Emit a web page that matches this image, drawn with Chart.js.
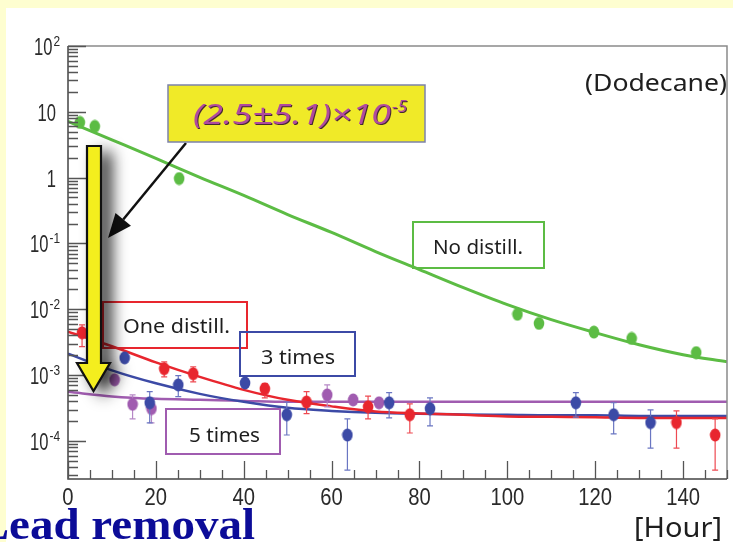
<!DOCTYPE html>
<html>
<head>
<meta charset="utf-8">
<script src="https://cdn.jsdelivr.net/npm/chart.js@4"></script>
<style>
  html, body { margin: 0; padding: 0; background: #fefed0; overflow: hidden; }
  canvas { display: block; }
</style>
</head>
<body>
<canvas id="chart" width="733" height="542" style="width:733px;height:542px"></canvas>
<script>
// Lead activity in dodecane versus elapsed time, for each number of distillations.

// Axis ticks
const hourTicks = [0, 20, 40, 60, 80, 100, 120, 140];
const activityTicks = [1e-4, 1e-3, 1e-2, 1e-1, 1, 10, 100];
const activityTickBase = ["10", "10", "10", "10", "1", "10", "10"];
const activityTickExp = ["-4", "-3", "-2", "-1", "", "", "2"];

// Series names
const seriesNames = ["No distill.", "One distill.", "3 times", "5 times"];

// Measured points
const noDistillHours = [2.7, 6.1, 25.3, 102.3, 107.2, 119.7, 128.3, 143.0];
const noDistillValues = [6.9, 6.0, 0.97, 8.4e-3, 6.1e-3, 4.5e-3, 3.6e-3, 2.2e-3];

const oneDistillHours = [3.2, 21.9, 28.5, 44.8, 54.3, 68.3, 77.8, 138.5, 147.3];
const oneDistillValues = [4.4e-3, 1.25e-3, 1.05e-3, 6.2e-4, 3.9e-4, 3.3e-4, 2.5e-4, 1.9e-4, 1.23e-4];
const oneDistillLow = [2.7e-3, 9.4e-4, 7.9e-4, 4.5e-4, 2.6e-4, 2.16e-4, 1.32e-4, 7.8e-5, 3.6e-5];
const oneDistillHigh = [5.8e-3, 1.59e-3, 1.34e-3, 7.4e-4, 5.6e-4, 4.8e-4, 3.66e-4, 2.87e-4, 2.16e-4];

const threeTimesHours = [12.9, 18.6, 25.1, 40.3, 49.8, 63.6, 73.1, 82.4, 115.6, 124.2, 132.6];
const threeTimesValues = [1.83e-3, 3.8e-4, 7.1e-4, 7.6e-4, 2.5e-4, 1.23e-4, 3.8e-4, 3.1e-4, 3.8e-4, 2.5e-4, 1.9e-4];
const threeTimesLow = [1.65e-3, 1.88e-4, 4.7e-4, 6.6e-4, 1.23e-4, 3.6e-5, 2.24e-4, 1.69e-4, 2.3e-4, 1.28e-4, 7.8e-5];
const threeTimesHigh = [2.0e-3, 5.6e-4, 9.8e-4, 8.6e-4, 3.9e-4, 2.16e-4, 5.4e-4, 4.5e-4, 5.4e-4, 3.8e-4, 2.96e-4];

const fiveTimesHours = [10.6, 14.7, 19.0, 59.0, 64.9, 70.8];
const fiveTimesValues = [8.5e-4, 3.6e-4, 3.1e-4, 5.0e-4, 4.2e-4, 3.8e-4];
const fiveTimesLow = [7.6e-4, 2.16e-4, 1.88e-4, 3.3e-4, 3.7e-4, 3.4e-4];
const fiveTimesHigh = [9.4e-4, 5.0e-4, 4.5e-4, 7.1e-4, 4.8e-4, 4.3e-4];

// Fitted curves, sampled every 10 hours
const fitHours = [0, 10, 20, 30, 40, 50, 60, 70, 80, 90, 100, 110, 120, 130, 140, 150];
const fitNoDistill = [7.16, 3.75, 1.96, 1.01, 0.536, 0.275, 0.147, 0.0754, 0.0401, 0.0213, 0.01175, 6.95e-3, 4.41e-3, 2.89e-3, 2.04e-3, 1.59e-3];
const fitOneDistill = [4.56e-3, 2.74e-3, 1.56e-3, 9.4e-4, 5.97e-4, 4.21e-4, 3.35e-4, 2.80e-4, 2.62e-4, 2.49e-4, 2.36e-4, 2.32e-4, 2.28e-4, 2.24e-4, 2.24e-4, 2.24e-4];
const fitThreeTimes = [2.11e-3, 1.18e-3, 7.5e-4, 5.19e-4, 3.93e-4, 3.18e-4, 2.86e-4, 2.67e-4, 2.58e-4, 2.53e-4, 2.49e-4, 2.45e-4, 2.45e-4, 2.40e-4, 2.40e-4, 2.40e-4];
const fitFiveTimes = [5.57e-4, 4.75e-4, 4.36e-4, 4.21e-4, 4.06e-4, 3.93e-4, 3.93e-4, 3.93e-4, 3.93e-4, 3.93e-4, 3.93e-4, 3.93e-4, 3.93e-4, 3.93e-4, 3.93e-4, 3.93e-4];

const fitValue = "(2.5\u00B15.1)\u00D710";
const fitValueExp = "-5";

const GREEN = "#5cbc44", RED = "#e8262e", BLUE = "#3c4aa6", PURPLE = "#a05cb0";

const toPoints = (xs, ys) => xs.map((x, i) => ({ x: x, y: ys[i] }));

function dot(color) {
  const c = document.createElement("canvas");
  c.width = 12; c.height = 14;
  const g = c.getContext("2d");
  g.fillStyle = color;
  g.beginPath();
  g.ellipse(6, 7, 5.3, 6.5, 0, 0, Math.PI * 2);
  g.fill();
  return c;
}

function lineSet(xs, ys, color, width) {
  return {
    data: toPoints(xs, ys), showLine: true, borderColor: color, borderWidth: width,
    pointRadius: 0, cubicInterpolationMode: "monotone", order: 5
  };
}
function pointSet(xs, ys, color, barColor, low, high) {
  return {
    data: toPoints(xs, ys), showLine: false, pointStyle: dot(color), pointRadius: 6,
    backgroundColor: color, borderWidth: 0, order: 1,
    errLow: low, errHigh: high, errColor: barColor
  };
}

function drawText(ctx, str, left, base, font, color, width) {
  ctx.save();
  ctx.font = font; ctx.fillStyle = color;
  ctx.textAlign = "left"; ctx.textBaseline = "alphabetic";
  const w = ctx.measureText(str).width;
  const sx = width ? width / w : 1;
  ctx.translate(left, base); ctx.scale(sx, 1);
  ctx.fillText(str, 0, 0);
  ctx.restore();
}
function textWidth(ctx, str, font, sx) {
  ctx.save(); ctx.font = font;
  const w = ctx.measureText(str).width * sx;
  ctx.restore();
  return w;
}

const errorBars = {
  id: "errorBars",
  beforeDatasetDraw(chart, args) {
    const ds = chart.data.datasets[args.index];
    if (!ds.errLow) return;
    const ctx = chart.ctx, xs = chart.scales.x, ys = chart.scales.y;
    ctx.save();
    ctx.strokeStyle = ds.errColor; ctx.lineWidth = 1.2;
    ds.data.forEach((p, i) => {
      const px = xs.getPixelForValue(p.x);
      const y1 = ys.getPixelForValue(ds.errLow[i]);
      const y2 = ys.getPixelForValue(ds.errHigh[i]);
      ctx.beginPath();
      ctx.moveTo(px, y1); ctx.lineTo(px, y2);
      ctx.moveTo(px - 3, y1); ctx.lineTo(px + 3, y1);
      ctx.moveTo(px - 3, y2); ctx.lineTo(px + 3, y2);
      ctx.stroke();
    });
    ctx.restore();
  }
};

const decorations = {
  id: "decorations",
  beforeDraw(chart) {
    const ctx = chart.ctx;
    ctx.save();
    ctx.fillStyle = "#fefed0";
    ctx.fillRect(0, 0, chart.width, chart.height);
    ctx.fillStyle = "#ffffff";
    ctx.fillRect(6, 8, chart.width - 6, chart.height - 8);
    ctx.restore();
  },
  afterDatasetsDraw(chart) {
    const ctx = chart.ctx, a = chart.chartArea;
    const xs = chart.scales.x, ys = chart.scales.y;
    ctx.save();

    // frame
    ctx.lineWidth = 1.5;
    ctx.strokeStyle = "#8a8a8a";
    ctx.beginPath();
    ctx.moveTo(a.left, a.top); ctx.lineTo(a.right, a.top); ctx.lineTo(a.right, a.bottom);
    ctx.stroke();
    ctx.strokeStyle = "#444";
    ctx.beginPath();
    ctx.moveTo(a.left, a.top); ctx.lineTo(a.left, a.bottom); ctx.lineTo(a.right, a.bottom);
    ctx.stroke();

    // ticks on the hour axis
    ctx.strokeStyle = "#555"; ctx.lineWidth = 1.3;
    ctx.beginPath();
    for (let h = xs.min; h <= xs.max; h += 5) {
      const px = Math.round(xs.getPixelForValue(h)) + 0.5;
      const len = hourTicks.includes(h) ? 18 : 9;
      ctx.moveTo(px, a.bottom); ctx.lineTo(px, a.bottom - len);
    }
    // ticks on the activity axis
    for (let d = -5; d <= 2; d++) {
      for (let k = 1; k <= 9; k++) {
        const v = k * Math.pow(10, d);
        if (v < ys.min || v > ys.max) continue;
        const py = Math.round(ys.getPixelForValue(v)) + 0.5;
        const len = k === 1 ? 18 : 10;
        ctx.moveTo(a.left, py); ctx.lineTo(a.left + len, py);
      }
    }
    ctx.stroke();

    // hour labels
    const xFont = '23px "Liberation Sans", Arial, sans-serif', xsx = 0.88;
    hourTicks.forEach(h => {
      const label = String(h);
      const w = textWidth(ctx, label, xFont, xsx);
      drawText(ctx, label, xs.getPixelForValue(h) - w / 2, 505, xFont, "#2a2a2a", w);
    });

    // activity labels
    const yFont = '23px "Liberation Sans", Arial, sans-serif', ysx = 0.72;
    const eFont = '14px "Liberation Sans", Arial, sans-serif', esx = 0.85;
    activityTicks.forEach((v, i) => {
      const py = ys.getPixelForValue(v);
      const base = activityTickBase[i], exp = activityTickExp[i];
      const wb = textWidth(ctx, base, yFont, ysx);
      const we = exp ? textWidth(ctx, exp, eFont, esx) : 0;
      const right = exp ? 60 : 56;
      const left = right - wb - we - (exp ? 1 : 0);
      drawText(ctx, base, left, py + 9, yFont, "#2a2a2a", wb);
      if (exp) drawText(ctx, exp, left + wb + 1, py + 0, eFont, "#2a2a2a", we);
    });

    // series boxes
    const boxes = [
      { name: seriesNames[0], color: GREEN, box: [413, 222, 131, 46], left: 433, width: 90, base: 254 },
      { name: seriesNames[1], color: RED, box: [103, 302, 144, 46], left: 123, width: 107, base: 333 },
      { name: seriesNames[2], color: BLUE, box: [240, 332, 115, 44], left: 261, width: 74, base: 364 },
      { name: seriesNames[3], color: PURPLE, box: [166, 409, 114, 45], left: 189, width: 71, base: 442 }
    ];
    const lFont = '20px "Noto Sans", "Liberation Sans", sans-serif';
    boxes.forEach(b => {
      ctx.strokeStyle = b.color; ctx.lineWidth = 2;
      ctx.strokeRect(b.box[0], b.box[1], b.box[2], b.box[3]);
      drawText(ctx, b.name, b.left, b.base, lFont, "#1e1e1e", b.width);
    });

    drawText(ctx, "(Dodecane)", 585, 91, '23px "Noto Sans", "Liberation Sans", sans-serif', "#1e1e1e", 142);

    // thin black pointer
    ctx.strokeStyle = "#111"; ctx.fillStyle = "#111"; ctx.lineWidth = 2.5;
    const p0 = [186, 143], p1 = [108, 238];
    const ang = Math.atan2(p1[1] - p0[1], p1[0] - p0[0]);
    const hl = 24, hw = 10;
    const bx = p1[0] - hl * Math.cos(ang), by = p1[1] - hl * Math.sin(ang);
    ctx.beginPath(); ctx.moveTo(p0[0], p0[1]); ctx.lineTo(bx, by); ctx.stroke();
    ctx.beginPath();
    ctx.moveTo(p1[0], p1[1]);
    ctx.lineTo(bx + hw * Math.sin(ang), by - hw * Math.cos(ang));
    ctx.lineTo(bx - hw * Math.sin(ang), by + hw * Math.cos(ang));
    ctx.closePath(); ctx.fill();

    // big yellow arrow with soft shadow
    const arrow = () => {
      ctx.beginPath();
      ctx.moveTo(87, 146); ctx.lineTo(101, 146); ctx.lineTo(101, 363); ctx.lineTo(110, 363);
      ctx.lineTo(93.5, 391); ctx.lineTo(77, 363); ctx.lineTo(87, 363); ctx.closePath();
    };
    ctx.save();
    ctx.shadowColor = "rgba(0,0,0,0.9)"; ctx.shadowBlur = 16;
    ctx.shadowOffsetX = 10; ctx.shadowOffsetY = 6;
    arrow(); ctx.fillStyle = "#f4ee1e"; ctx.fill();
    ctx.restore();
    arrow(); ctx.fillStyle = "#f4ee1e"; ctx.fill();
    ctx.strokeStyle = "#111"; ctx.lineWidth = 2.2; ctx.lineJoin = "miter"; ctx.stroke();

    // fitted value label
    ctx.fillStyle = "#f0ea28"; ctx.fillRect(168, 85, 257, 57);
    ctx.strokeStyle = "#7c82aa"; ctx.lineWidth = 1.5; ctx.strokeRect(168, 85, 257, 57);
    ctx.save();
    ctx.shadowColor = "rgba(50,20,50,0.9)"; ctx.shadowOffsetX = 1; ctx.shadowOffsetY = 1; ctx.shadowBlur = 0;
    drawText(ctx, fitValue, 193, 124, 'italic 28px "Noto Sans", "Liberation Sans", sans-serif', "#b04a9e", 198);
    drawText(ctx, fitValueExp, 392, 112, 'italic 16px "Noto Sans", "Liberation Sans", sans-serif', "#b04a9e", 15);
    ctx.restore();

    // captions
    drawText(ctx, "[Hour]", 634, 537, '27px "Noto Sans", "Liberation Sans", sans-serif', "#1e1e1e", 88);
    const tFont = 'bold 44px "Liberation Serif", "Times New Roman", serif';
    const wRest = textWidth(ctx, "ead removal", tFont, 1);
    const sx = 246 / wRest;
    const wL = textWidth(ctx, "L", tFont, 1) * sx;
    const wAll = textWidth(ctx, "Lead removal", tFont, 1) * sx;
    drawText(ctx, "Lead removal", 9 - wL, 539, tFont, "#0c0c98", wAll);

    ctx.restore();
  }
};

new Chart(document.getElementById("chart"), {
  type: "scatter",
  data: {
    datasets: [
      lineSet(fitHours, fitNoDistill, GREEN, 3),
      lineSet(fitHours, fitOneDistill, RED, 2.5),
      lineSet(fitHours, fitThreeTimes, BLUE, 2.5),
      lineSet(fitHours, fitFiveTimes, PURPLE, 2.5),
      pointSet(noDistillHours, noDistillValues, GREEN, GREEN, null, null),
      pointSet(oneDistillHours, oneDistillValues, RED, "#ee4a52", oneDistillLow, oneDistillHigh),
      pointSet(threeTimesHours, threeTimesValues, BLUE, "#6a76c2", threeTimesLow, threeTimesHigh),
      pointSet(fiveTimesHours, fiveTimesValues, PURPLE, "#b688c6", fiveTimesLow, fiveTimesHigh)
    ]
  },
  options: {
    responsive: false,
    animation: false,
    devicePixelRatio: 1,
    layout: { padding: { left: 68, top: 46, right: 2, bottom: 63 } },
    plugins: { legend: { display: false }, tooltip: { enabled: false } },
    scales: {
      x: { type: "linear", min: 0, max: 150, display: false },
      y: { type: "logarithmic", min: 2.64e-5, max: 100, display: false }
    }
  },
  plugins: [errorBars, decorations]
});
</script>
</body>
</html>
